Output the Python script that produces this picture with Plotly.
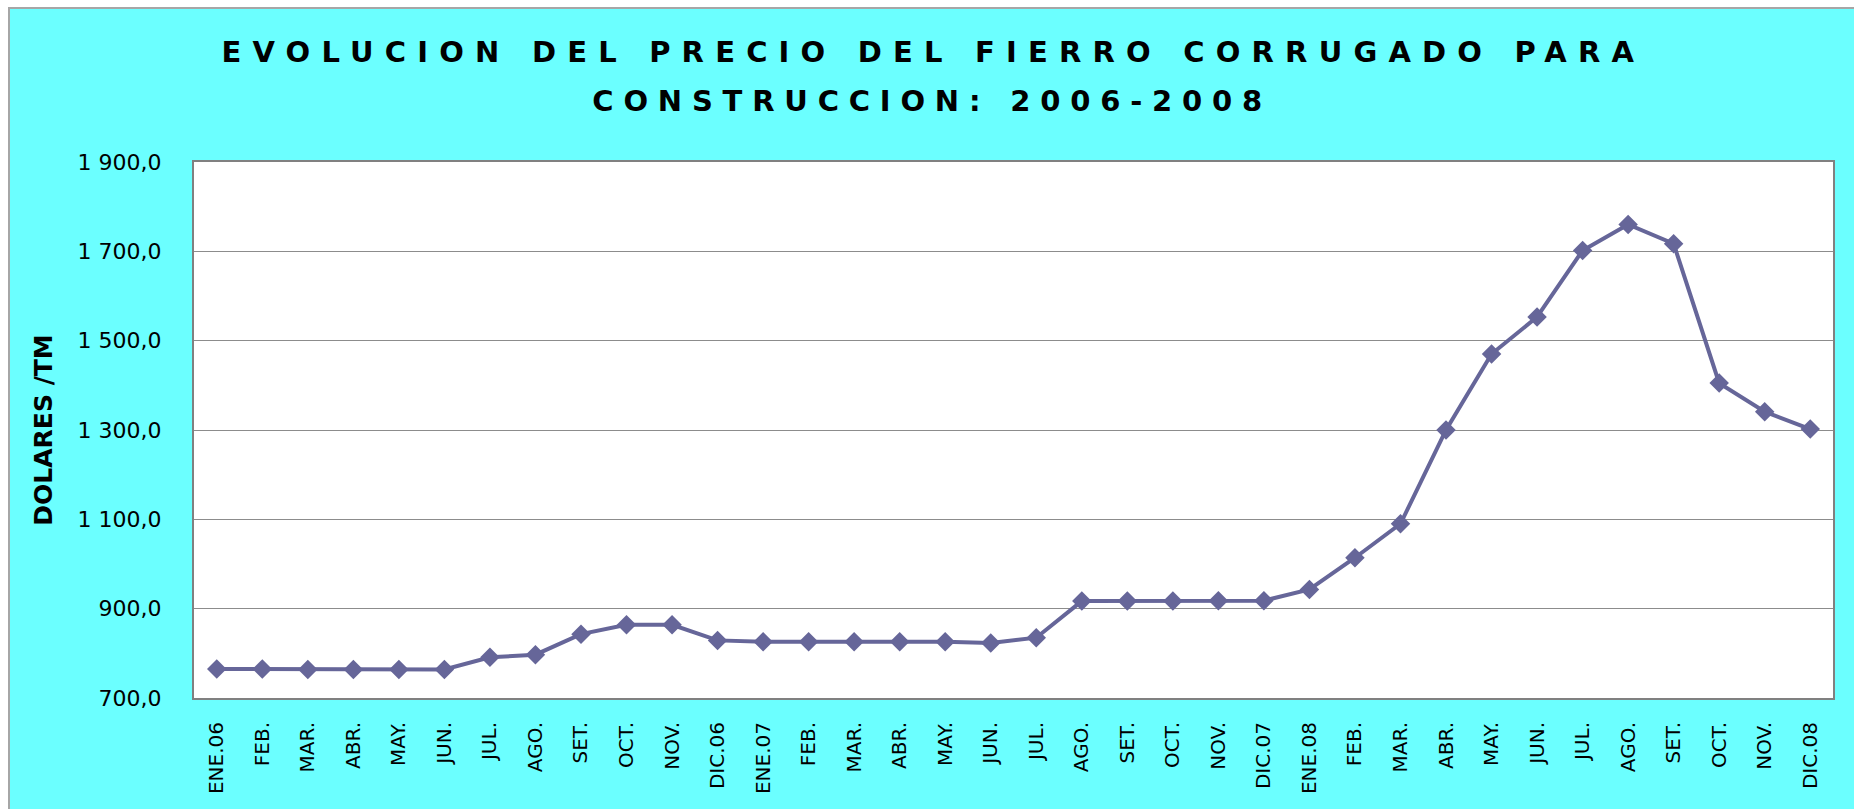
import plotly.graph_objects as go

# ---------------- data ----------------
months = ["ENE.06", "FEB.", "MAR.", "ABR.", "MAY.", "JUN.", "JUL.", "AGO.", "SET.", "OCT.", "NOV.", "DIC.06",
          "ENE.07", "FEB.", "MAR.", "ABR.", "MAY.", "JUN.", "JUL.", "AGO.", "SET.", "OCT.", "NOV.", "DIC.07",
          "ENE.08", "FEB.", "MAR.", "ABR.", "MAY.", "JUN.", "JUL.", "AGO.", "SET.", "OCT.", "NOV.", "DIC.08"]
precio = [765, 765, 764, 764, 764, 764, 791, 797, 843, 864, 864, 829,
          826, 826, 826, 826, 826, 823, 835, 917, 917, 917, 918, 918,
          943, 1014, 1090, 1300, 1470, 1553, 1702, 1760, 1717, 1405, 1341, 1302]
y_ticks = [700, 900, 1100, 1300, 1500, 1700, 1900]
title_lines = ["EVOLUCION DEL PRECIO DEL FIERRO CORRUGADO PARA", "CONSTRUCCION: 2006-2008"]
y_title = "DOLARES /TM"

# ---------------- layout geometry ----------------
W, H = 1854, 809
L, R, T, B = 194, 21, 162, 111
PW, PH = W - L - R, H - T - B


def xp(px):
    return (px - L) / PW


def yp(py):
    return (H - B - py) / PH


FONT = "DejaVu Sans"
SERIES = "#666699"
BG = "#6BFFFF"

x_idx = list(range(len(months)))

fig = go.Figure()
fig.add_trace(go.Scatter(
    x=x_idx, y=precio, mode="lines+markers",
    line=dict(color=SERIES, width=4),
    marker=dict(symbol="diamond", size=15, color=SERIES),
    showlegend=False, hoverinfo="y",
))

fig.update_layout(
    width=W, height=H,
    margin=dict(l=L, r=R, t=T, b=B, pad=0),
    paper_bgcolor="white",
    plot_bgcolor="white",
    separators=", ",
    font=dict(family=FONT, color="black"),
    showlegend=False,
    shapes=[
        dict(type="rect", xref="paper", yref="paper", layer="below",
             x0=xp(9), x1=xp(W + 20), y0=yp(H + 20), y1=yp(8),
             fillcolor=BG, line=dict(color="#A6A6A6", width=2)),
        dict(type="rect", xref="paper", yref="paper", layer="below",
             x0=0, x1=1, y0=0, y1=1, fillcolor="white", line=dict(width=0)),
    ],
    annotations=[
        dict(text=title_lines[0], xref="paper", yref="paper", x=xp(933), y=yp(52),
             xanchor="center", yanchor="middle", showarrow=False,
             font=dict(family=FONT, size=29, color="black", weight="bold")),
        dict(text=title_lines[1], xref="paper", yref="paper", x=xp(932), y=yp(101),
             xanchor="center", yanchor="middle", showarrow=False,
             font=dict(family=FONT, size=29, color="black", weight="bold")),
    ],
)

fig.update_xaxes(
    range=[-0.5, len(months) - 0.5],
    tickmode="array", tickvals=x_idx, ticktext=months,
    tickangle=-90, ticks="", showgrid=False, zeroline=False,
    showline=True, linecolor="#808080", linewidth=2, mirror=True,
    tickfont=dict(family=FONT, size=20, color="black"),
    ticklabelstandoff=14,
)
fig.update_yaxes(
    range=[700, 1900], tickmode="array", tickvals=y_ticks, tickformat=",.1f",
    ticks="", showgrid=True, gridcolor="#8C8C8C", gridwidth=1, zeroline=False,
    showline=True, linecolor="#808080", linewidth=2, mirror=True,
    tickfont=dict(family=FONT, size=22, color="black"),
    ticklabelstandoff=26,
    title=dict(text=y_title, standoff=18,
               font=dict(family=FONT, size=25, color="black", weight="bold")),
)

post = (
    "var s=document.createElement('style');"
    "s.textContent='html,body{margin:0;padding:0;overflow:hidden}"
    ".annotation[data-index=\"0\"] .annotation-text{letter-spacing:11.2px}"
    ".annotation[data-index=\"1\"] .annotation-text{letter-spacing:9.8px}';"
    "document.head.appendChild(s);"
)
fig.write_html("out.html", post_script=post, config={"displayModeBar": False})
